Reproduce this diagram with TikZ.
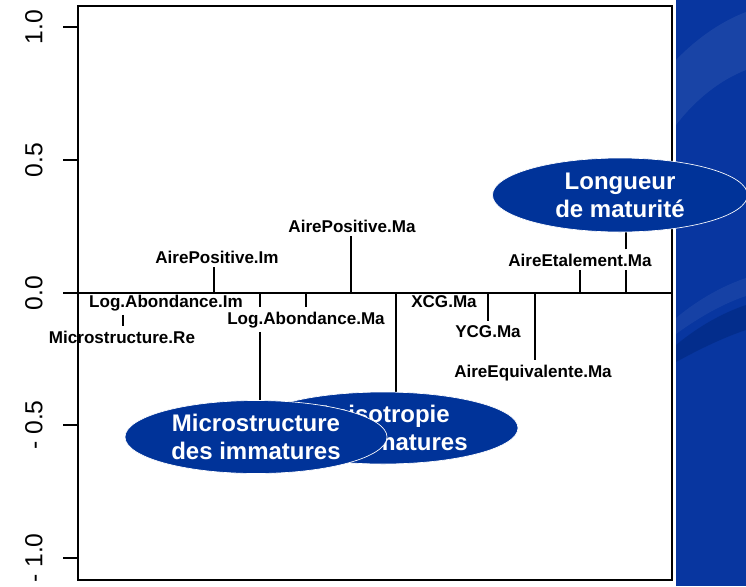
\documentclass[tikz,border=0pt]{standalone}
\usepackage{fontspec}
\setmainfont{Liberation Sans}
\usetikzlibrary{shapes.geometric,backgrounds}

\definecolor{panelblue}{RGB}{8,54,160}
\definecolor{paneldark}{RGB}{0,40,128}
\definecolor{blobblue}{RGB}{0,51,153}

\begin{document}
\begin{tikzpicture}[x=0.75pt,y=-0.75pt,
  axisline/.style={line width=1.5pt},
  stick/.style={line width=1.5pt},
  varname/.style={font=\bfseries\fontsize{12.8}{15}\selectfont,inner sep=3pt,anchor=base},
  ticklab/.style={rotate=90,font=\fontsize{18.5}{20}\selectfont,inner sep=0pt},
  blob/.style={ellipse,draw=white,line width=0.5pt,fill=blobblue,inner sep=0pt},
  blobtext/.style={text=white,align=center,inner sep=0pt,
    font=\bfseries\fontsize{18}{21}\selectfont}]
\useasboundingbox (0,0) rectangle (746,586);

% slide background on the right
\fill[panelblue] (676,0) rectangle (746,586);
\fill[white,opacity=.07] (676,60) .. controls (700,35) and (725,20) .. (746,12)
  -- (746,70) .. controls (720,80) and (695,100) .. (676,125) -- cycle;
\fill[paneldark,opacity=.6] (676,345) .. controls (700,325) and (725,312) .. (746,305)
  -- (746,330) .. controls (722,338) and (698,350) .. (676,362) -- cycle;
\fill[white,opacity=.06] (676,318) .. controls (700,298) and (725,285) .. (746,278)
  -- (746,296) .. controls (722,304) and (698,318) .. (676,334) -- cycle;

% frame and y axis
\draw[axisline] (78,6) rectangle (672,580);
\foreach \yy/\lab [count=\i] in {27/1.0,160/0.5,293/0.0,425/- 0.5,558/- 1.0}{
  \draw[axisline] (63,\yy) -- (78,\yy);
  \node[ticklab] (tick\i) at (34,\yy) {\lab};
}

% variable names
\node[varname] (re) at (122,343) {Microstructure.Re};
\node[varname] (logim) at (166,307) {Log.Abondance.Im};
\node[varname] (apim) at (217,263) {AirePositive.Im};
\node[varname] (logma) at (306,324) {Log.Abondance.Ma};
\node[varname] (apma) at (352,232) {AirePositive.Ma};
\node[varname] (xcg) at (444,307) {XCG.Ma};
\node[varname] (ycg) at (488,337) {YCG.Ma};
\node[varname] (aequ) at (533,377) {AireEquivalente.Ma};
\node[varname] (aetal) at (580,266) {AireEtalement.Ma};

% groups
\node[blob,minimum width=202.5pt,minimum height=54pt] (aniso) at (383,428) {};
\node[blobtext] (anisotxt) at (aniso) {Anisotropie\\des immatures};
\node[blob,minimum width=196.5pt,minimum height=54.75pt] (micro) at (256,437) {};
\node[blobtext] (microtxt) at (micro) {Microstructure\\des immatures};
\node[blob,minimum width=191.25pt,minimum height=55.5pt] (longueur) at (620,195) {};
\node[blobtext] (longueurtxt) at (longueur) {Longueur\\de maturité};

% sticks from the zero line
\coordinate (sRe) at (123,293);
\coordinate (sMi) at (260,293);
\coordinate (sApIm) at (214,293);
\coordinate (sLogMa) at (306,293);
\coordinate (sApMa) at (351,293);
\coordinate (sAn) at (396,293);
\coordinate (sYcg) at (488,293);
\coordinate (sAeq) at (535,293);
\coordinate (sAet) at (580,293);
\coordinate (sLong) at (626,293);
\begin{pgfonlayer}{background}
\draw[stick] (sRe |- logim.south) -- (sRe |- re.north);
\draw[stick] (sMi) -- (sMi |- logma.north);
\draw[stick] (sMi |- logma.south) -- (sMi |- micro.center);
\draw[stick] (sApIm) -- (sApIm |- apim.south);
\draw[stick] (sLogMa) -- (sLogMa |- logma.north);
\draw[stick] (sApMa) -- (sApMa |- apma.south);
\draw[stick] (sAn) -- (sAn |- aniso.center);
\draw[stick] (sYcg) -- (sYcg |- ycg.north);
\draw[stick] (sAeq) -- (sAeq |- aequ.north);
\draw[stick] (sAet) -- (sAet |- aetal.south);
\draw[stick] (sLong) -- (sLong |- aetal.south);
\draw[stick] (sLong |- aetal.north) -- (sLong |- longueur.center);
\draw[axisline] (63,293) -- (672,293);
\end{pgfonlayer}
\end{tikzpicture}
\end{document}
